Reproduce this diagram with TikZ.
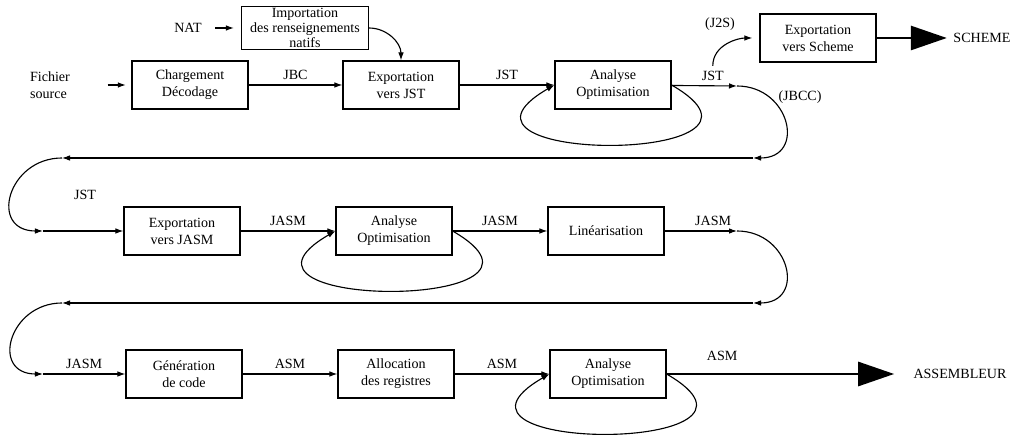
\documentclass[tikz,border=0pt]{standalone}
\usepackage{fontspec}
\setmainfont{Liberation Serif}
\usepackage {tikz}
\usetikzlibrary {positioning}
\usetikzlibrary{calc}
\usetikzlibrary{arrows.meta}
\tikzset{
    box/.style = {rectangle,draw,align=center,minimum width=2.9cm,minimum height=1.2cm,inner sep=2pt},
    smallbox/.style = {box,minimum width=3.175cm,minimum height=1.075cm,inner sep=1pt,font=\fontsize{10}{10.5}\selectfont},
    arr/.style = {-{Latex[length=2mm,width=1.4mm]}},
    bigarr/.style = {line width=2pt,-{Triangle[length=0.9cm,width=0.6cm]}},
    selfloop/.style = {out=-30,in=-150,looseness=3.5},
    turn/.style = {looseness=1.85}}

\begin{document}
\begin{tikzpicture}[x=0.025cm,y=-0.025cm,line width=0.8pt]
        \useasboundingbox (0,0) rectangle (1014,438);
        \path (190,85) node[box] (charge) {Chargement\\D\'ecodage}
        ++ (211,0) node[box] (expjst) {Exportation\\vers JST}
        ++ (212,0) node[box] (opt1) {Analyse\\Optimisation};
        \path (182,231) node[box] (expjasm) {Exportation\\vers JASM}
        ++ (212,0) node[box] (opt2) {Analyse\\Optimisation}
        ++ (212,0) node[box] (lin) {Lin\'earisation};
        \path (184,374) node[box] (gen) {G\'en\'eration\\de code}
        ++ (212,0) node[box] (alloc) {Allocation\\des registres}
        ++ (212,0) node[box] (opt3) {Analyse\\Optimisation};
        \node[smallbox] (import) at (305,28) {Importation\\des renseignements\\natifs};
        \node[box] (scheme) at (818,38) {Exportation\\vers Scheme};
        \node[align=left] (src) at (50,85) {Fichier\\source};
        \node (nat) at (188,28) {NAT};
        \node (sch) at (982,38) {SCHEME};
        \node (asmb) at (960,374) {ASSEMBLEUR};
        \node (j2s) at (720,24) {(J2S)};
        \node (jbcc) at (800,97) {(JBCC)};
        \node (jst2) at (85,195) {JST};
        \coordinate (j1) at (737,86);
        \coordinate (r1) at (753,158);
        \coordinate (l1) at (62,158);
        \coordinate (l2) at (43,231);
        \coordinate (j2) at (737,231);
        \coordinate (r2) at (753,303);
        \coordinate (l3) at (62,303);
        \coordinate (l4) at (43,374);
        \draw[arr,shorten <=23pt,shorten >=4pt] (src) -- (charge);
        \draw[arr,shorten <=6pt,shorten >=5pt] (nat) -- (import);
        \draw[arr] (import.east) to [out=0,in=90] (expjst.north);
        \draw[arr] (charge) -- node[above] {JBC} (expjst);
        \draw[arr] (expjst) -- node[above] {JST} (opt1);
        \draw[arr] (opt1) -- node[above,pos=0.63] (jst1) {JST} (j1);
        \draw[arr] (opt1.east) to [selfloop] (opt1.west);
        \draw[arr,shorten >=5pt] (jst1.north) to [out=90,in=180] (scheme.west);
        \draw[bigarr,shorten >=1pt] (scheme) -- (sch);
        \draw[arr] (j1) to [out=0,in=0,turn] (r1);
        \draw[arr] (r1) -- (l1);
        \draw[arr] (l1) to [out=180,in=180,turn] (l2);
        \draw[arr] (l2) -- (expjasm);
        \draw[arr] (expjasm) -- node[above] {JASM} (opt2);
        \draw[arr] (opt2) -- node[above] {JASM} (lin);
        \draw[arr] (opt2.east) to [selfloop] (opt2.west);
        \draw[arr] (lin) -- node[above,pos=0.67] {JASM} (j2);
        \draw[arr] (j2) to [out=0,in=0,turn] (r2);
        \draw[arr] (r2) -- (l3);
        \draw[arr] (l3) to [out=180,in=180,turn] (l4);
        \draw[arr] (l4) -- node[above] {JASM} (gen);
        \draw[arr] (gen) -- node[above] {ASM} (alloc);
        \draw[arr] (alloc) -- node[above] {ASM} (opt3);
        \draw[arr] (opt3.east) to [selfloop] (opt3.west);
        \draw[bigarr,shorten >=10pt] (opt3) -- node[above=5pt,pos=0.23] {ASM} (asmb);
\end{tikzpicture}
\end{document}
